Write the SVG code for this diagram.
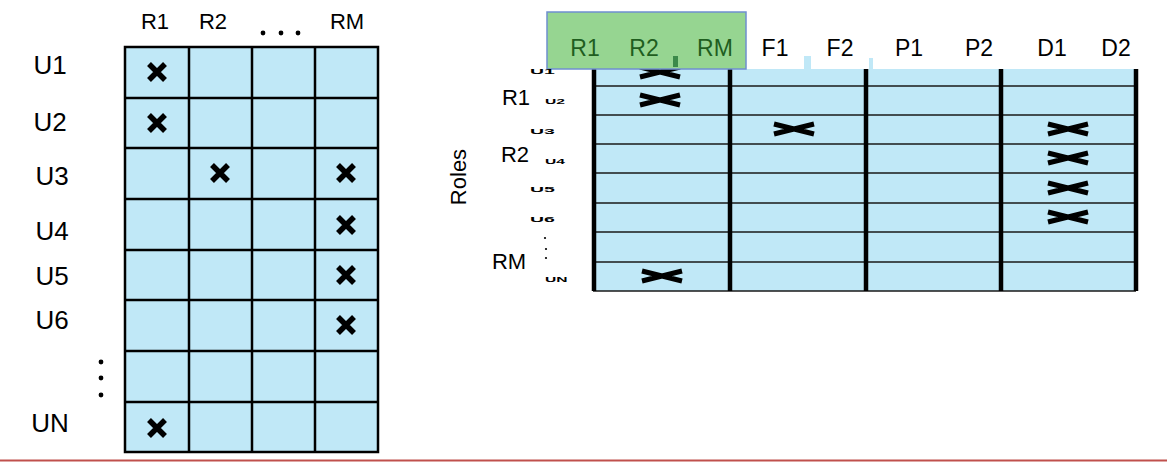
<svg xmlns="http://www.w3.org/2000/svg" width="1167" height="462" viewBox="0 0 1167 462">
<style>
text{font-family:"Liberation Sans",Arial,sans-serif;fill:#000}
.lbl{font-size:26px;text-anchor:middle}
.hd{font-size:22px;text-anchor:middle}
.rh{font-size:23px;text-anchor:middle}
.gh{font-size:23px;text-anchor:middle;fill:#1f5e1f}
.tiny{font-size:13px;font-weight:bold}
.cell{fill:#c0e8f7}
.gl{stroke:#000;stroke-width:2.5;fill:none}
.hl{stroke:#1a1a1a;stroke-width:1.6}
.vl{stroke:#000;stroke-width:4.5}
.xm{stroke:#000;stroke-width:5.5;fill:none}
.xw{stroke:#000;stroke-width:5;fill:none}
</style>
<defs>
<path id="xs" class="xm" d="M-8,-8 L8,8 M-8,8 L8,-8"/>
<path id="xw" class="xw" d="M-20,-5 L20,5 M-20,5 L20,-5"/>
</defs>

<g id="left-matrix">
<rect class="cell" x="125" y="47" width="253" height="405"/>
<g class="gl">
<rect x="125" y="47" width="253" height="405"/>
<path d="M189,47V452 M252,47V452 M315,47V452"/>
<path d="M125,98H378 M125,148H378 M125,199H378 M125,250H378 M125,300H378 M125,351H378 M125,402H378"/>
</g>
<use href="#xs" x="157" y="72"/>
<use href="#xs" x="157" y="123"/>
<use href="#xs" x="220" y="173"/>
<use href="#xs" x="346" y="173"/>
<use href="#xs" x="346" y="225"/>
<use href="#xs" x="346" y="275"/>
<use href="#xs" x="346" y="325"/>
<use href="#xs" x="157" y="428"/>
</g>

<g id="left-col-labels">
<text class="hd" x="155" y="29">R1</text>
<text class="hd" x="213" y="29">R2</text>
<circle cx="263" cy="33" r="2.4"/>
<circle cx="281" cy="33" r="2.4"/>
<circle cx="298" cy="33" r="2.4"/>
<text class="hd" x="347" y="29">RM</text>
</g>

<g id="left-row-labels">
<text class="lbl" x="50" y="74">U1</text>
<text class="lbl" x="50" y="131">U2</text>
<text class="lbl" x="52" y="185">U3</text>
<text class="lbl" x="52" y="240">U4</text>
<text class="lbl" x="52" y="285">U5</text>
<text class="lbl" x="52" y="329">U6</text>
<circle cx="101" cy="362" r="2.4"/>
<circle cx="101" cy="378" r="2.4"/>
<circle cx="101" cy="395" r="2.4"/>
<text class="lbl" x="50" y="432">UN</text>
</g>

<g id="right-matrix">
<rect class="cell" x="593" y="69" width="543" height="222"/>
<g class="hl">
<path d="M593,86H1136 M593,115H1136 M593,144H1136 M593,173H1136 M593,203H1136 M593,232H1136 M593,262H1136 M593,291H1136"/>
</g>
<g class="vl">
<path d="M594,69V291 M730,69V291 M866,69V291 M1001,69V291 M1136,69V291"/>
</g>
<use href="#xw" x="660" y="72"/>
<use href="#xw" x="660" y="100"/>
<use href="#xw" x="794" y="129"/>
<use href="#xw" x="1068" y="129"/>
<use href="#xw" x="1068" y="158"/>
<use href="#xw" x="1068" y="188"/>
<use href="#xw" x="1068" y="217"/>
<use href="#xw" x="662" y="276"/>
<rect class="cell" x="804" y="56" width="7" height="13"/>
<rect class="cell" x="869" y="58" width="4" height="11"/>
</g>

<g id="green-header">
<rect x="547" y="12" width="199" height="57" fill="#96d591" stroke="#6f8fcf" stroke-width="1.5"/>
<rect x="673" y="56" width="5" height="11" fill="#3c8a4a"/>
<text class="gh" x="585" y="56">R1</text>
<text class="gh" x="644" y="56">R2</text>
<text class="gh" x="715" y="56">RM</text>
</g>

<g id="right-col-labels">
<text class="rh" x="775" y="56">F1</text>
<text class="rh" x="840" y="56">F2</text>
<text class="rh" x="909" y="56">P1</text>
<text class="rh" x="979" y="56">P2</text>
<text class="rh" x="1052" y="56">D1</text>
<text class="rh" x="1116" y="56">D2</text>
</g>

<g id="right-row-labels">
<text class="hd" x="516" y="105">R1</text>
<text class="hd" x="515" y="162">R2</text>
<text class="hd" x="509" y="269">RM</text>
<text class="hd" transform="translate(466,177) rotate(-90)">Roles</text>
<g class="tiny">
<text transform="translate(530,74) scale(1.5,0.5)">U1</text>
<text transform="translate(545,104) scale(1.2,0.5)">U2</text>
<text transform="translate(530,134) scale(1.5,0.5)">U3</text>
<text transform="translate(545,164) scale(1.2,0.5)">U4</text>
<text transform="translate(530,192) scale(1.5,0.5)">U5</text>
<text transform="translate(530,222) scale(1.5,0.5)">U6</text>
<text transform="translate(545,282) scale(1.2,0.5)">UN</text>
</g>
<circle cx="545" cy="238" r="1.1"/>
<circle cx="546" cy="249" r="1.1"/>
<circle cx="546" cy="258" r="1.1"/>
</g>

<line x1="0" y1="460.5" x2="1167" y2="460.5" stroke="#c0504d" stroke-width="2"/>
</svg>
